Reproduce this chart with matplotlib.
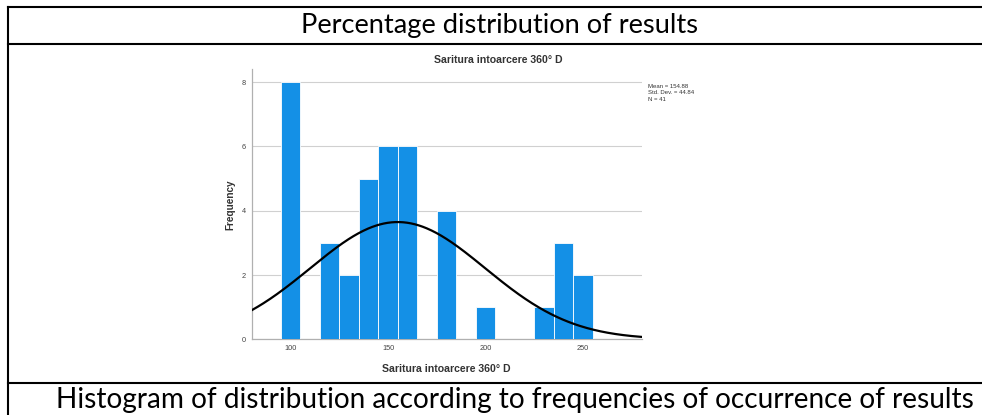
import matplotlib
matplotlib.use("Agg")
import matplotlib.pyplot as plt
from matplotlib.lines import Line2D
import numpy as np

# histogram data (bin centers, width 10)
bin_centers = [100, 120, 130, 140, 150, 160, 180, 200, 230, 240, 250]
counts = [8, 3, 2, 5, 6, 6, 4, 1, 1, 3, 2]
bin_width = 10

mean_val = 154.88
std_val = 44.84
n_val = 41

header_text = "Percentage distribution of results"
footer_text = "Histogram of distribution according to frequencies of occurrence of results"
chart_title = "Saritura intoarcere 360° D"
y_ticks = [0, 2, 4, 6, 8]
x_ticks = [100, 150, 200, 250]

fig = plt.figure(figsize=(9.82, 4.15), dpi=100)

# table frame
W, H = 982.0, 415.0
def hline(ypx, x0px=8, x1px=982, lw=1.5):
    fig.add_artist(Line2D([x0px / W, x1px / W], [1 - ypx / H, 1 - ypx / H],
                          color="black", lw=lw, transform=fig.transFigure))
hline(7)
hline(44)
hline(383)
fig.add_artist(Line2D([8 / W, 8 / W], [1 - 7 / H, 0], color="black", lw=1.5,
                      transform=fig.transFigure))

fig.text(500 / W, 1 - 26 / H, header_text, ha="center", va="center",
         fontsize=19.6, family="Lato")
fig.text(515 / W, 1 - 400 / H, footer_text, ha="center", va="center",
         fontsize=20.2, family="Lato")

ax = fig.add_axes([251.7 / W, 1 - 339.3 / H, 390 / W, (339.3 - 69.3) / H])
ax.bar(bin_centers, counts, width=bin_width, color="#1490E6", edgecolor="white",
       linewidth=0.6, zorder=3)

xs = np.linspace(80, 280, 400)
ys = n_val * bin_width / (std_val * np.sqrt(2 * np.pi)) * np.exp(-0.5 * ((xs - mean_val) / std_val) ** 2)
ax.plot(xs, ys, color="black", lw=1.6, zorder=4)

ax.set_xlim(80, 280)
ax.set_ylim(0, 8.4)
ax.set_xticks(x_ticks)
ax.set_yticks(y_ticks)
ax.grid(axis="y", color="#d0d0d0", lw=0.8, zorder=0)
ax.tick_params(length=0, labelsize=5.3, labelcolor="#444444", pad=4)
for s in ["top", "right"]:
    ax.spines[s].set_visible(False)
for s in ["left", "bottom"]:
    ax.spines[s].set_color("#b0b0b0")
    ax.spines[s].set_linewidth(0.9)
for lab in ax.get_xticklabels() + ax.get_yticklabels():
    lab.set_family("Liberation Sans")

ax.set_xlabel(chart_title, fontsize=7.6, fontweight="bold", family="Liberation Sans",
              color="#333333", labelpad=9)
ax.set_ylabel("Frequency", fontsize=7.2, fontweight="bold", family="Liberation Sans",
              color="#333333", labelpad=5)
fig.text(498 / W, 1 - 60 / H, chart_title, ha="center", va="center", fontsize=7.6,
         fontweight="bold", family="Liberation Sans", color="#333333")

fig.text(648 / W, 1 - 84 / H,
         f"Mean = {mean_val:.2f}\nStd. Dev. = {std_val:.2f}\nN = {n_val}",
         ha="left", va="top", fontsize=4.3, family="Liberation Sans",
         color="#333333", linespacing=1.35)

fig.savefig("out.png", dpi=100)
